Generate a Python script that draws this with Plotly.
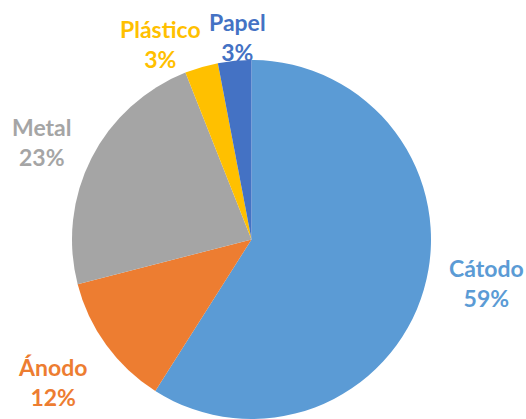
import plotly.graph_objects as go

# Composition of the material, clockwise from 12 o'clock
labels = ["Cátodo", "Ánodo", "Metal", "Plástico", "Papel"]
values = [59, 12, 23, 3, 3]
colors = ["#5B9BD5", "#ED7D31", "#A5A5A5", "#FFC000", "#4472C4"]

W, H = 526, 419
# label block centres in pixels (x, y from top)
label_pos = [(486, 283), (52, 382), (42, 142), (160, 44), (237, 37)]

fig = go.Figure(go.Pie(
    labels=labels,
    values=values,
    sort=False,
    direction="clockwise",
    rotation=0,
    textinfo="none",
    hoverinfo="label+percent",
    marker=dict(colors=colors, line=dict(width=0)),
    showlegend=False,
    domain=dict(x=[(251.5 - 179.5) / W, (251.5 + 179.5) / W], y=[0, (H - 60) / H]),
))

total = sum(values)
for lab, val, col, (px, py) in zip(labels, values, colors, label_pos):
    fig.add_annotation(
        x=px / W, y=1 - py / H, xref="paper", yref="paper",
        xanchor="center", yanchor="middle", showarrow=False,
        text=f"<b>{lab}<br>{round(100 * val / total)}%</b>",
        align="center",
        font=dict(family="Lato", size=23, color=col),
    )

fig.update_layout(
    width=W, height=H,
    margin=dict(l=0, r=0, t=0, b=0),
    paper_bgcolor="white", plot_bgcolor="white",
)
fig.write_html("out.html")
